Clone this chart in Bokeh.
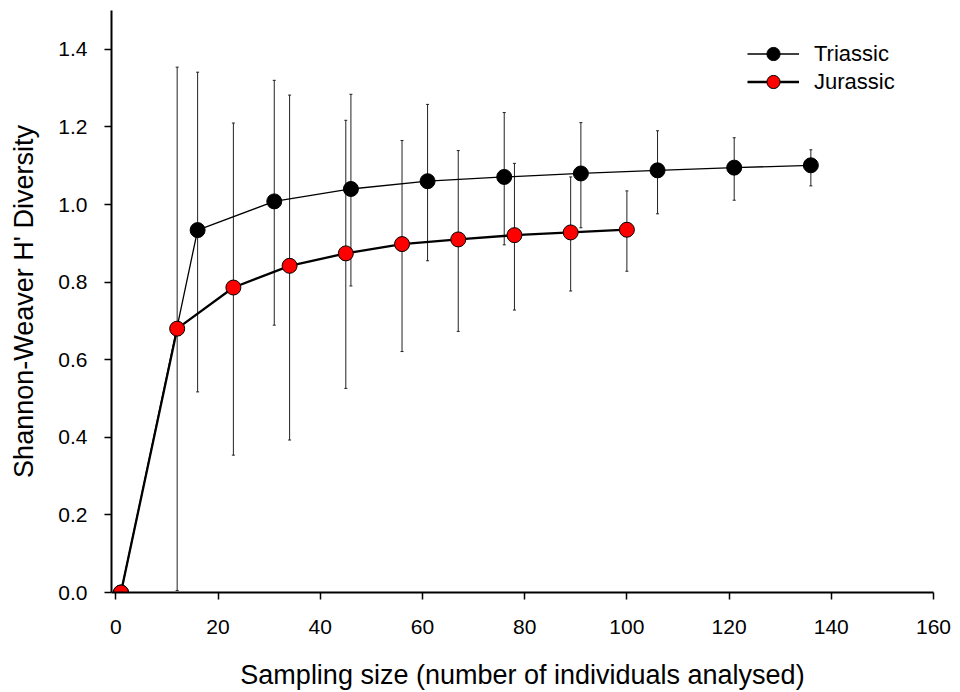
from bokeh.plotting import figure
from bokeh.models import (ColumnDataSource, Whisker, TeeHead, Legend, LegendItem,
                          FixedTicker, NumeralTickFormatter, Range1d)
from bokeh.embed import file_html
from bokeh.resources import INLINE

# ---- data ----
tri_x = [1, 16, 31, 46, 61, 76, 91, 106, 121, 136]
tri_y = [0.0, 0.934, 1.008, 1.040, 1.060, 1.071, 1.080, 1.088, 1.095, 1.101]
tri_lo = [0.0, 0.517, 0.689, 0.790, 0.855, 0.896, 0.940, 0.976, 1.011, 1.048]
tri_hi = [0.0, 1.341, 1.320, 1.284, 1.258, 1.237, 1.211, 1.190, 1.172, 1.141]

jur_x = [1, 12, 23, 34, 45, 56, 67, 78, 89, 100]
jur_y = [0.0, 0.680, 0.786, 0.842, 0.874, 0.898, 0.910, 0.921, 0.928, 0.935]
jur_lo = [0.0, 0.005, 0.354, 0.393, 0.526, 0.621, 0.673, 0.728, 0.777, 0.828]
jur_hi = [0.0, 1.354, 1.210, 1.282, 1.217, 1.165, 1.139, 1.106, 1.071, 1.035]

x_ticks = [0, 20, 40, 60, 80, 100, 120, 140, 160]
y_ticks = [0.0, 0.2, 0.4, 0.6, 0.8, 1.0, 1.2, 1.4]

FONT = "Liberation Sans"

p = figure(frame_width=822, frame_height=582,
           min_border_left=111, min_border_right=27,
           min_border_top=10, min_border_bottom=100,
           x_range=Range1d(-0.85, 160), y_range=Range1d(0, 1.5),
           output_backend="svg", toolbar_location=None, tools="")
p.outline_line_color = None
p.grid.visible = False
p.background_fill_color = "white"
p.border_fill_color = "white"

tri_src = ColumnDataSource(dict(x=tri_x[1:], y=tri_y[1:], lo=tri_lo[1:], hi=tri_hi[1:]))
jur_src = ColumnDataSource(dict(x=jur_x[1:], y=jur_y[1:], lo=jur_lo[1:], hi=jur_hi[1:]))

for src in (tri_src, jur_src):
    w = Whisker(base="x", upper="hi", lower="lo", source=src, dimension="height",
                line_color="#222222", line_width=1,
                upper_head=TeeHead(size=3, line_color="#222222", line_width=1),
                lower_head=TeeHead(size=3, line_color="#222222", line_width=1),
                level="underlay")
    p.add_layout(w)

tri_line = p.line(tri_x, tri_y, line_color="black", line_width=1.3)
tri_pts = p.scatter(tri_x, tri_y, size=15, fill_color="black", line_color="black", line_width=1)
jur_line = p.line(jur_x, jur_y, line_color="black", line_width=2.3)
jur_pts = p.scatter(jur_x, jur_y, size=15, fill_color="#FF0000", line_color="black", line_width=1)

legend_items = [("Triassic", [tri_line, tri_pts], (636, 522)),
                ("Jurassic", [jur_line, jur_pts], (636, 494))]
for label, rends, loc in legend_items:
    lg = Legend(items=[LegendItem(label=label, renderers=rends)],
                location=loc, padding=0, margin=0, spacing=0,
                glyph_width=52, glyph_height=33, label_standoff=15,
                label_text_font=FONT, label_text_font_size="22px",
                label_text_color="black",
                border_line_color=None, background_fill_alpha=0)
    p.add_layout(lg)

p.xaxis.ticker = FixedTicker(ticks=x_ticks)
p.yaxis.ticker = FixedTicker(ticks=y_ticks)
p.yaxis.formatter = NumeralTickFormatter(format="0.0")
p.xaxis.axis_label = "Sampling size (number of individuals analysed)"
p.yaxis.axis_label = "Shannon-Weaver H' Diversity"

for ax in (p.xaxis, p.yaxis):
    ax.axis_line_width = 2
    ax.axis_line_color = "black"
    ax.major_tick_out = 7
    ax.major_tick_in = 0
    ax.major_tick_line_width = 1.5
    ax.major_tick_line_color = "black"
    ax.minor_tick_line_color = None
    ax.major_label_text_font = FONT
    ax.major_label_text_font_size = "21px"
    ax.major_label_text_color = "black"
    ax.axis_label_text_font = FONT
    ax.axis_label_text_font_size = "27px"
    ax.axis_label_text_font_style = "normal"
    ax.axis_label_text_color = "black"

p.xaxis.major_label_standoff = 20
p.yaxis.major_label_standoff = 17
p.xaxis.axis_label_standoff = 23
p.yaxis.axis_label_standoff = 16

open("out.html", "w").write(file_html(p, INLINE))
